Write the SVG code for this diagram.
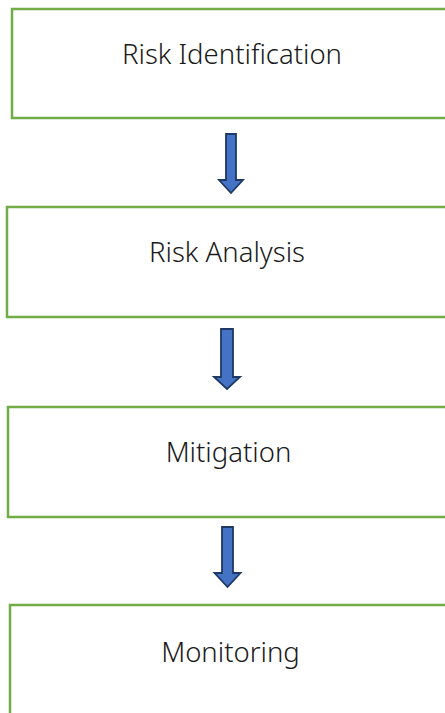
<svg xmlns="http://www.w3.org/2000/svg" width="445" height="713" viewBox="0 0 445 713">
<style>
.box{fill:#ffffff;stroke:#70AD47;stroke-width:2.5}
.lbl{font-family:"Noto Sans","Open Sans",sans-serif;font-size:27.5px;font-weight:300;fill:#1a1a1a;text-anchor:middle}
.arr{fill:#4472C4;stroke:#1F3864;stroke-width:1.8;stroke-linejoin:miter}
</style>
<rect width="445" height="713" fill="#ffffff"/>
<g id="node-identification">
<rect class="box" x="12" y="9" width="445" height="109"/>
<text class="lbl" x="232" y="64">Risk Identification</text>
</g>
<g id="node-analysis">
<rect class="box" x="7" y="207" width="445" height="110"/>
<text class="lbl" x="227" y="262">Risk Analysis</text>
</g>
<g id="node-mitigation">
<rect class="box" x="8" y="407" width="445" height="110"/>
<text class="lbl" x="228.5" y="462">Mitigation</text>
</g>
<g id="node-monitoring">
<rect class="box" x="10" y="605" width="445" height="115"/>
<text class="lbl" x="230.5" y="662">Monitoring</text>
</g>
<g id="connectors">
<polygon class="arr" points="226,134 236,134 236,180 243,180 231,193 219,180 226,180"/>
<polygon class="arr" points="221,329 233,329 233,377 240,377 227,389 214,377 221,377"/>
<polygon class="arr" points="222,527 233,527 233,573 240.5,573 227.5,587 214.5,573 222,573"/>
</g>
</svg>
